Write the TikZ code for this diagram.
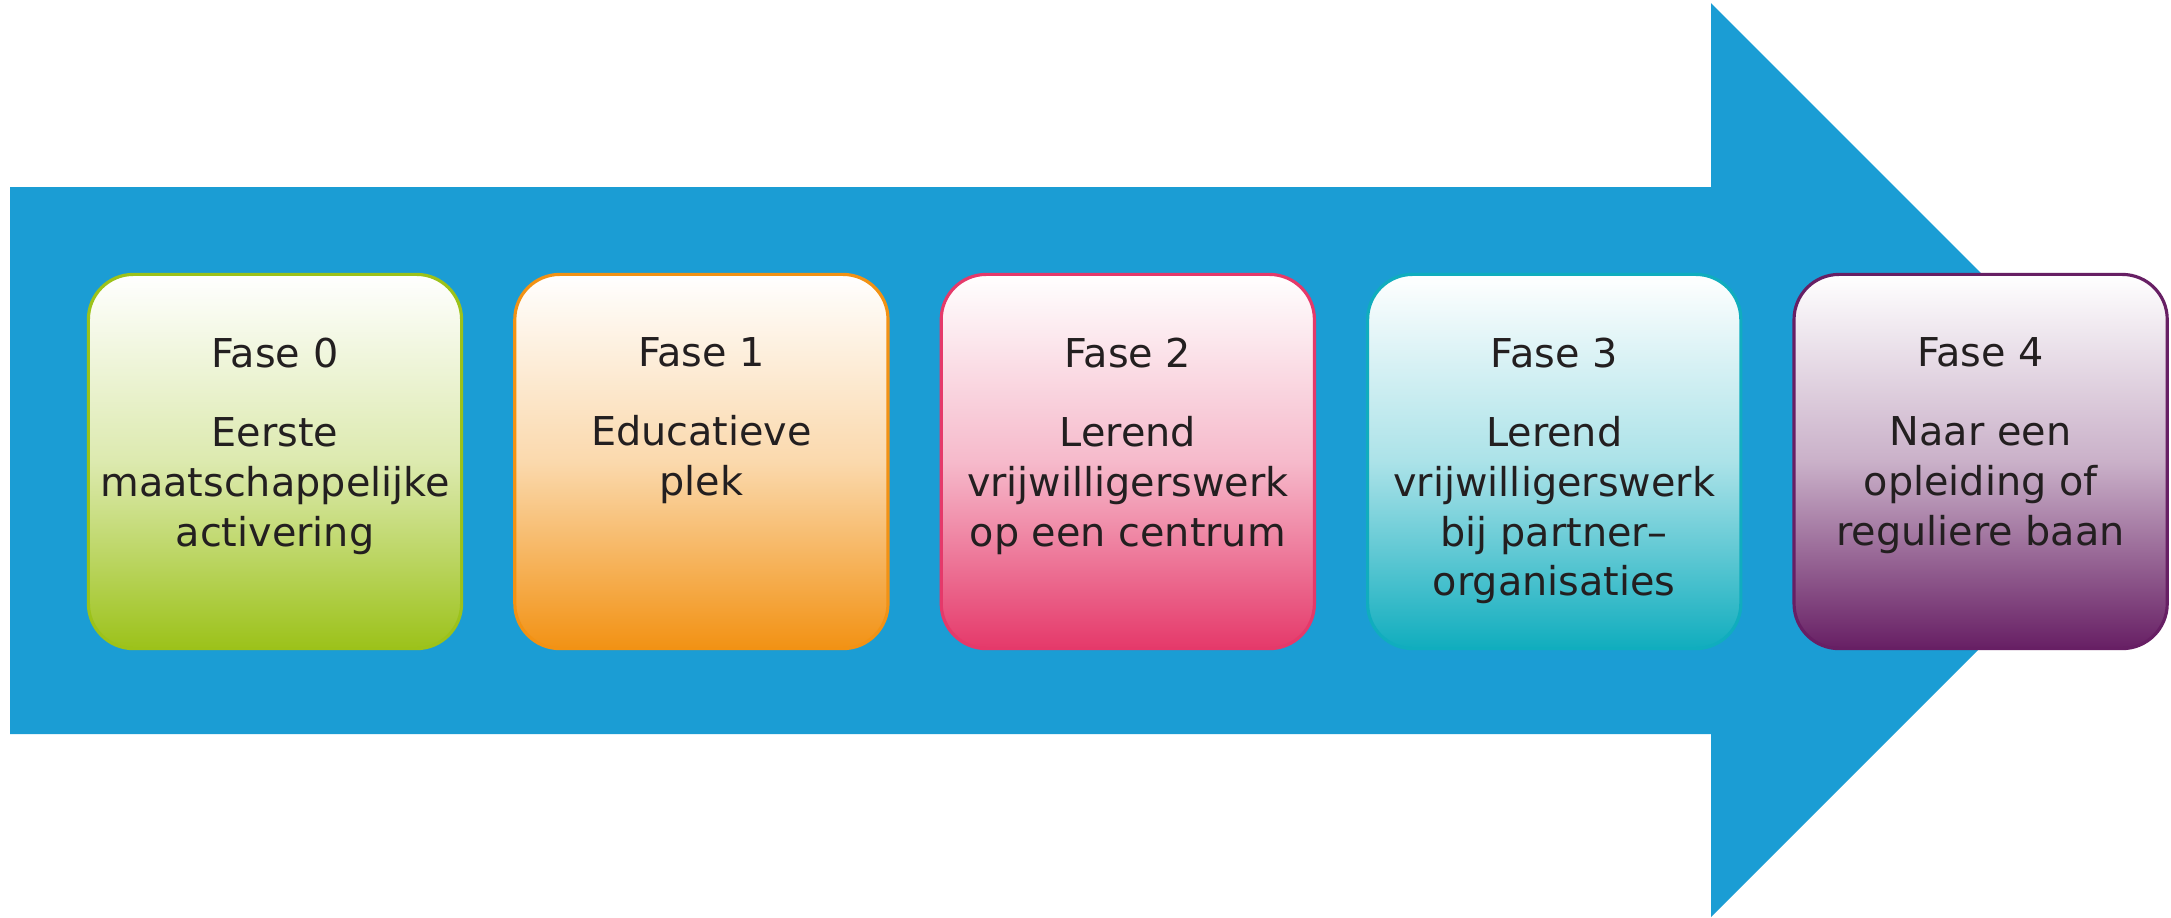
\documentclass[tikz,border=0pt]{standalone}
\usepackage{fontspec}
\setmainfont{DejaVu Sans}
\usetikzlibrary{positioning}

\definecolor{pijl}{RGB}{27,157,212}
\definecolor{tekst}{RGB}{35,31,32}
\definecolor{groen}{RGB}{156,194,26}
\definecolor{oranje}{RGB}{242,146,20}
\definecolor{roze}{RGB}{229,57,106}
\definecolor{turkoois}{RGB}{16,173,190}
\definecolor{paars}{RGB}{103,31,100}

\begin{document}
\begin{tikzpicture}[x=0.01cm,y=-0.01cm,
	fase/.style = {draw=#1, line width=0.9pt, rounded corners=0.45cm,
		minimum width=3.73cm, minimum height=3.74cm,
		top color=white, bottom color=#1, middle color=#1!35},
	fasetekst/.style = {anchor=north, align=center, inner sep=0pt, text=tekst,
		font=\fontsize{11.3}{14.2}\selectfont}]
	\fill[white] (0,0) rectangle (2171,915);
	\fill[pijl] (10,187) -- (1711,187) -- (1711,3) -- (2168,460) -- (1711,917)
		-- (1711,734) -- (10,734) -- cycle;
	\node[fase=groen] (f0) at (275,461.5) {};
	\node[fase=oranje, right=0.5cm of f0] (f1) {};
	\node[fase=roze, right=0.5cm of f1] (f2) {};
	\node[fase=turkoois, right=0.5cm of f2] (f3) {};
	\node[fase=paars, right=0.5cm of f3] (f4) {};
	\node[fasetekst] (t0) at ([yshift=-0.64cm]f0.north) {Fase 0\\[8.3pt]Eerste\\maatschappelijke\\activering};
	\node[fasetekst] (t1) at ([yshift=-0.64cm]f1.north) {Fase 1\\[8.3pt]Educatieve\\plek};
	\node[fasetekst] (t2) at ([yshift=-0.64cm]f2.north) {Fase 2\\[8.3pt]Lerend\\vrijwilligerswerk\\op een centrum};
	\node[fasetekst] (t3) at ([yshift=-0.64cm]f3.north) {Fase 3\\[8.3pt]Lerend\\vrijwilligerswerk\\bij partner--\\organisaties};
	\node[fasetekst] (t4) at ([yshift=-0.64cm]f4.north) {Fase 4\\[8.3pt]Naar een\\opleiding of\\reguliere baan};
\end{tikzpicture}
\end{document}
